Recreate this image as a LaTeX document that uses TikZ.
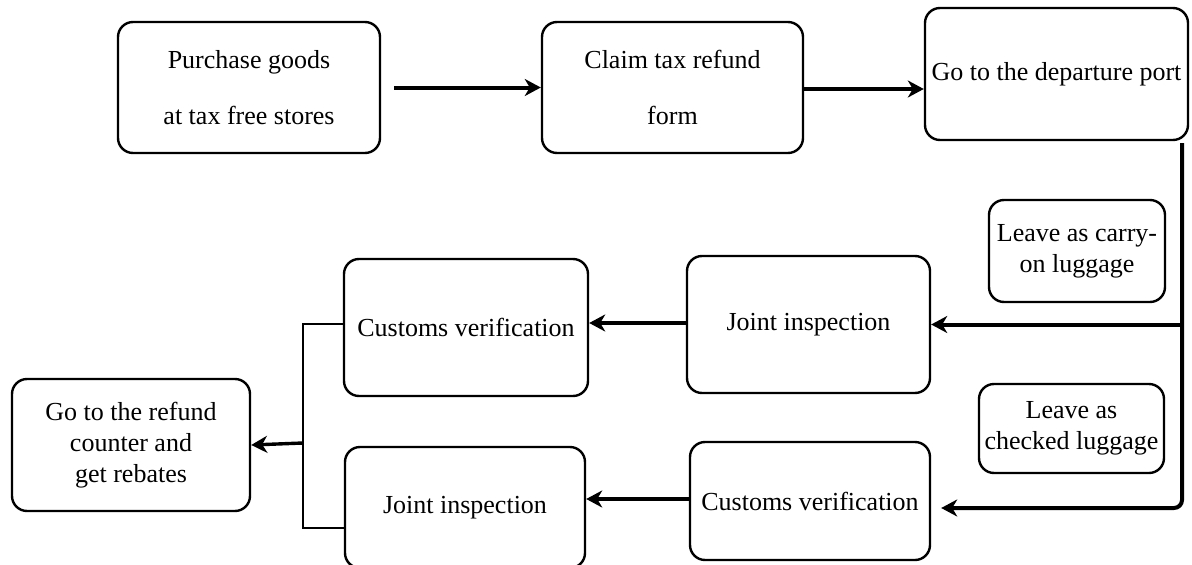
\documentclass[tikz,border=0pt]{standalone}
\usepackage{fontspec}
\setmainfont{Liberation Serif}
\usetikzlibrary{arrows.meta}

\begin{document}
\begin{tikzpicture}[x=1pt,y=-1pt,
    every text node part/.style={align=center},
    every node/.style={font=\fontsize{26}{31}\selectfont},
    stepbox/.style={draw,line width=2.4pt,rounded corners=15pt,inner sep=0pt},
    flow/.style={line width=4pt,-{Stealth[length=16pt,width=17pt,inset=5pt]}},
    fork/.style={line width=2.4pt}]
        \useasboundingbox (0,0) rectangle (1192,565);

        \node[stepbox,minimum width=262,minimum height=131] (buy) at (249,87.5) {Purchase goods\\[25pt]at tax free stores};
        \node[stepbox,minimum width=261,minimum height=131] (claim) at (672.5,87.5) {Claim tax refund\\[25pt]form};
        \node[stepbox,minimum width=263,minimum height=132] (port) at (1056.5,74) {Go to the departure port};
        \node[stepbox,minimum width=176,minimum height=102] (carry) at (1077,251) {Leave as carry-\\on luggage};
        \node[stepbox,minimum width=185,minimum height=89] (checked) at (1071.5,428.5) {Leave as\\checked luggage};
        \node[stepbox,minimum width=243,minimum height=137] (jointA) at (808.5,324.5) {Joint inspection};
        \node[stepbox,minimum width=244,minimum height=137] (customsA) at (466,327.5) {Customs verification};
        \node[stepbox,minimum width=240,minimum height=118] (customsB) at (810,501) {Customs verification};
        \node[stepbox,minimum width=240,minimum height=121] (jointB) at (465,507.5) {Joint inspection};
        \node[stepbox,minimum width=238,minimum height=132] (refund) at (131,445) {Go to the refund\\counter and\\get rebates};

        \coordinate (drop) at (1182,143);
        \coordinate (split) at (303,443);
        \coordinate (splitlow) at (303,528);

        \draw[flow,shorten <=13pt] (buy) -- (claim);
        \draw[flow] (claim.east |- 0,89) -- (port.west |- 0,89);
        \draw[flow] (drop |- jointA.east) -- (jointA.east);
        \draw[flow,rounded corners=8pt,shorten >=10pt] (drop) |- (customsB.east |- 0,508);
        \draw[flow] (jointA.west |- 0,323) -- (customsA.east |- 0,323);
        \draw[flow] (customsB.west |- 0,499) -- (jointB.east |- 0,499);
        \draw[fork] (customsA.west |- 0,324) -| (splitlow) -- (splitlow -| jointB.west);
        \draw[flow,line width=3.4pt] (split) -- (refund.east);
    \end{tikzpicture}
\end{document}
